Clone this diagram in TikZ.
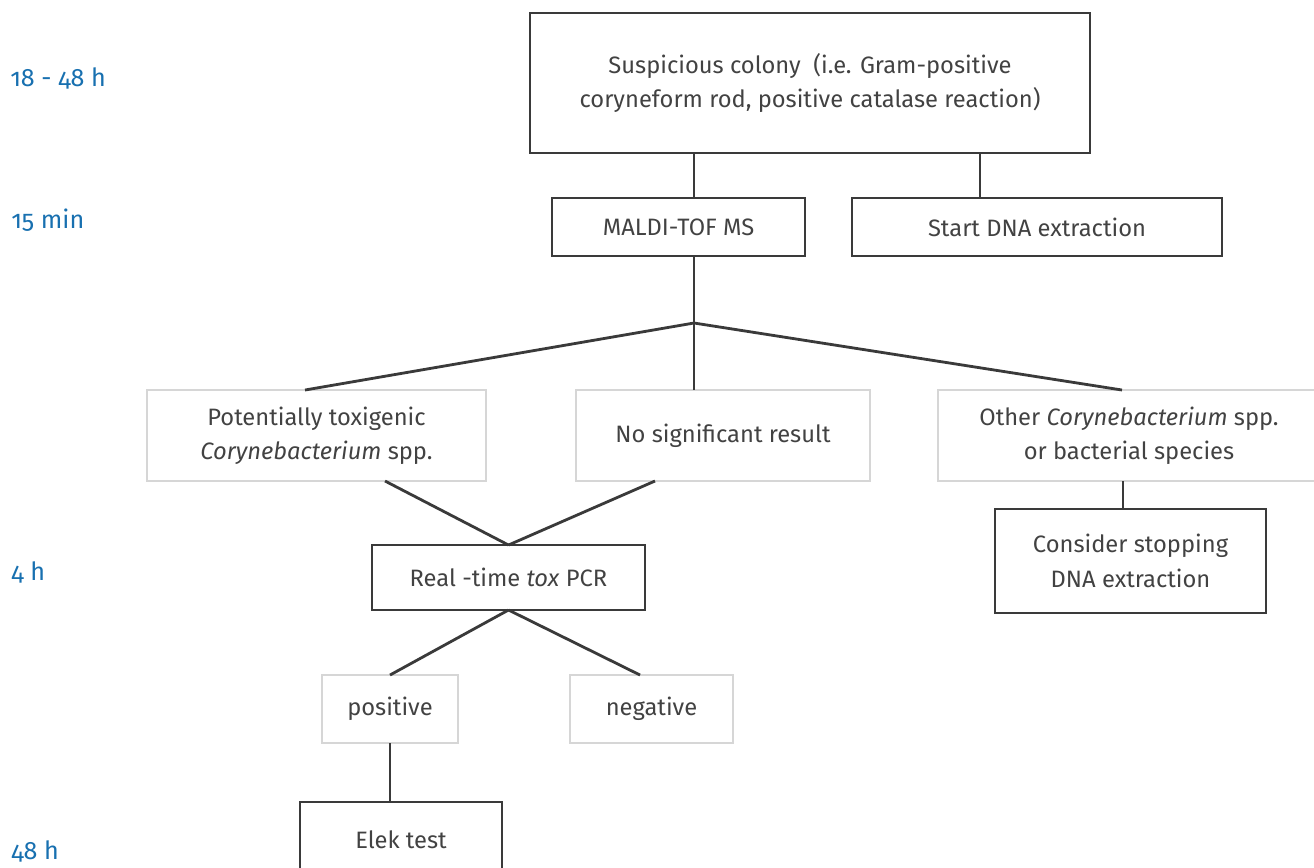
\documentclass[tikz,border=0pt]{standalone}
\usepackage{fontspec}
\setmainfont{Fira Sans}
\newfontfamily\timefont[Numbers=OldStyle]{Fira Sans}
\usetikzlibrary{positioning,calc}
\definecolor{timeblue}{RGB}{24,112,176}
\definecolor{textgray}{RGB}{66,66,66}
\definecolor{linegray}{RGB}{58,58,58}
\definecolor{boxgray}{RGB}{214,214,214}
\tikzstyle{stepbox}=[draw=linegray, line width=0.85pt, inner sep=0pt, outer sep=0pt, align=center, text=textgray, font=\fontsize{13.5}{19.5}\selectfont]
\tikzstyle{resultbox}=[stepbox, draw=boxgray, line width=0.8pt]
\tikzstyle{link}=[draw=linegray, line width=1.6pt]
\tikzstyle{timelabel}=[anchor=west, inner sep=0pt, text=timeblue, font=\timefont\fontsize{14.3}{16}\selectfont]

\begin{document}
\begin{tikzpicture}[x=0.02cm, y=-0.02cm]
    % frame of the picture
    \useasboundingbox (0,0) rectangle (1314,867);
    \clip (0,0) rectangle (1314,867);

    % time scale on the left
    \node[timelabel] (t1) at (10,78) {18 - 48 h};
    \node[timelabel] (t2) at (11,220) {15 min};
    \node[timelabel] (t3) at (11,572) {4 h};
    \node[timelabel] (t4) at (11,851) {48 h};

    % first steps
    \node[stepbox, minimum width=11.2cm, minimum height=2.8cm] (colony) at (810,83)
        {Suspicious colony\ \ (i.e. Gram-positive\\coryneform rod, positive catalase reaction)};
    \node[stepbox, minimum width=5.06cm, minimum height=1.16cm] (maldi) at (678.5,227) {MALDI-TOF MS};
    \node[stepbox, minimum width=7.4cm, minimum height=1.16cm] (dna) at (1037,227) {Start DNA extraction};

    % results of MALDI-TOF
    \node[resultbox, minimum width=6.78cm, minimum height=1.82cm] (toxi) at (316.5,435.5)
        {Potentially toxigenic\\\textit{Corynebacterium} spp.};
    \node[resultbox, minimum width=5.88cm, minimum height=1.82cm] (nosig) at (723,435.5) {No significant result};
    \node[resultbox, minimum width=7.64cm, minimum height=1.82cm] (other) at (1129,435.5)
        {Other \textit{Corynebacterium} spp.\\or bacterial species};

    % PCR and what follows
    \node[stepbox, minimum width=5.46cm, minimum height=1.3cm] (pcr) at (508.5,577.5) {Real -time \textit{tox} PCR};
    \node[stepbox, minimum width=5.42cm, minimum height=2.08cm] (stop) at (1130.5,561)
        {Consider stopping\\DNA extraction};
    \node[resultbox, minimum width=2.72cm, minimum height=1.36cm] (pos) at (390,709) {positive};
    \node[resultbox, minimum width=3.26cm, minimum height=1.36cm] (neg) at (651.5,709) {negative};
    \node[stepbox, minimum width=4.04cm, minimum height=1.52cm] (elek) at (401,840) {Elek test};

    % branching point under MALDI-TOF
    \coordinate (J) at (694,323);

    % connectors
    \draw[link] (colony.south -| J) -- (maldi.north -| J);
    \draw[link] ($(dna.north)+(-57,0)$) -- ++(0,-45);
    \draw[link] (maldi.south -| J) -- (J);
    \draw[link] (J) -- ($(toxi.north)+(-11.5,0)$);
    \draw[link] (J) -- (nosig.north -| J);
    \draw[link] (J) -- ($(other.north)+(-7,0)$);
    \draw[link] ($(toxi.south)+(68.5,0)$) -- (pcr.north);
    \draw[link] ($(nosig.south)+(-68,0)$) -- (pcr.north);
    \draw[link] ($(other.south)+(-6,0)$) -- ($(stop.north)+(-7.5,0)$);
    \draw[link] (pcr.south) -- (pos.north);
    \draw[link] (pcr.south) -- ($(neg.north)+(-11.5,0)$);
    \draw[link] (pos.south) -- (pos.south |- elek.north);
\end{tikzpicture}
\end{document}
